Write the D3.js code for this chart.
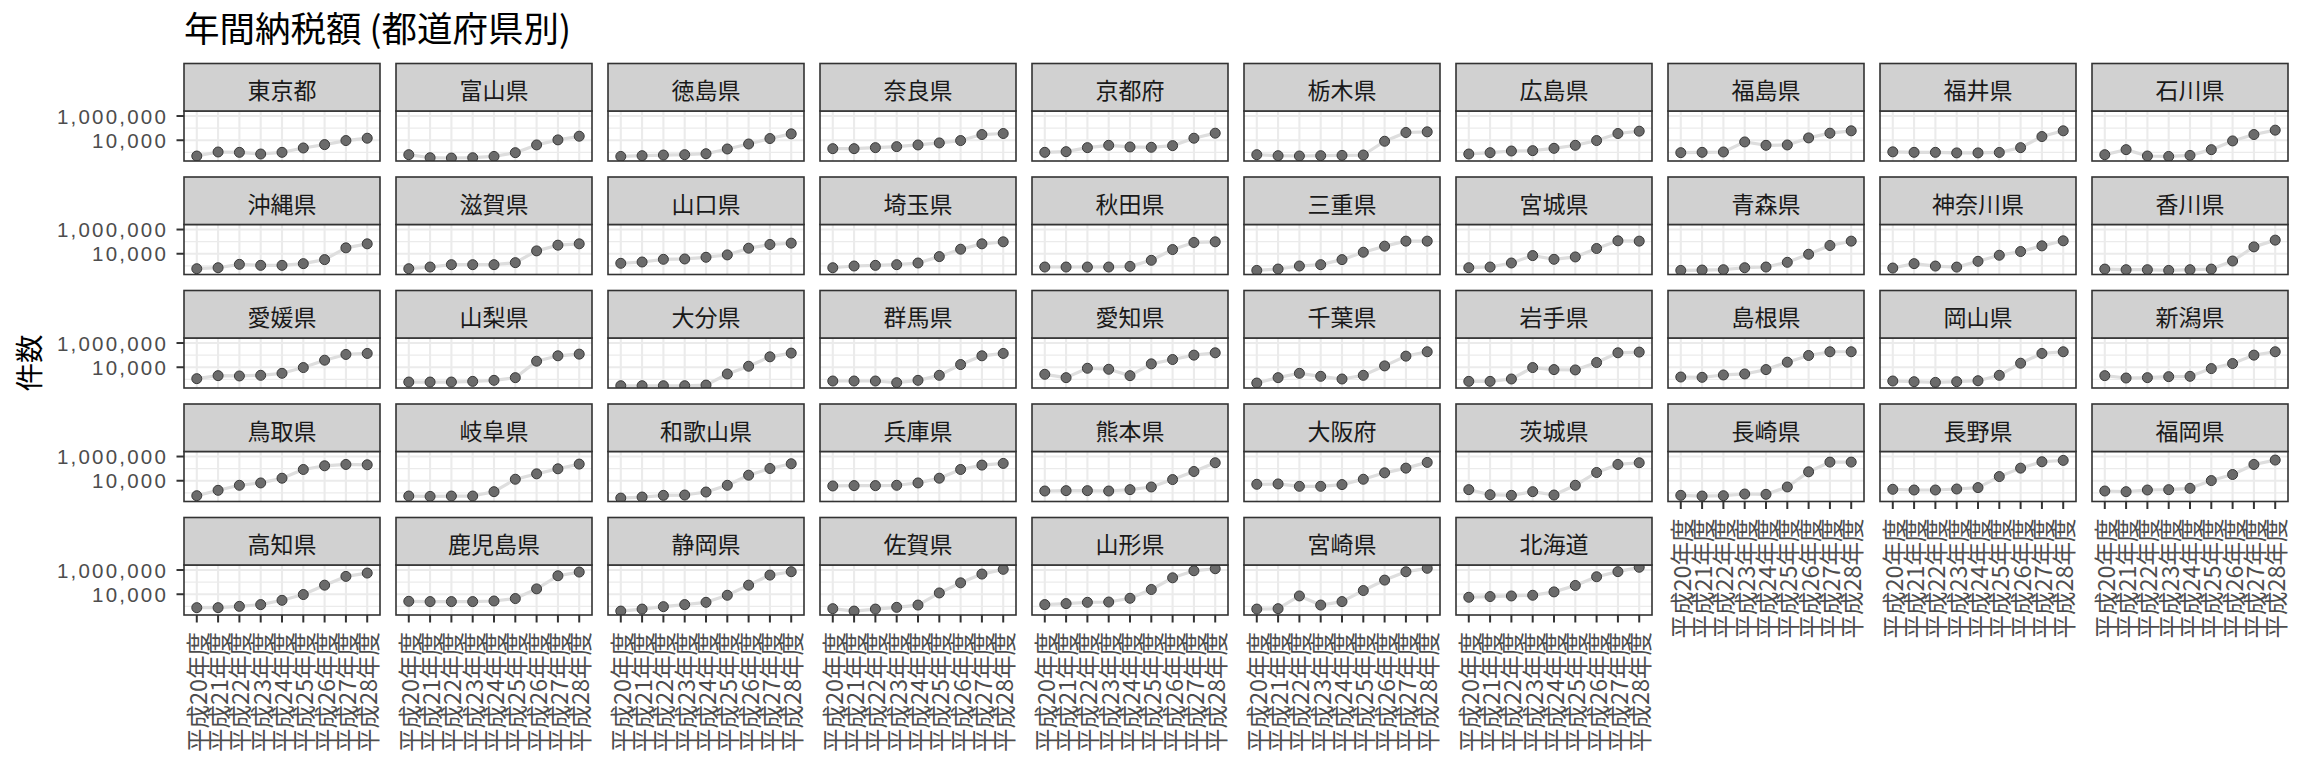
<!DOCTYPE html>
<html>
<head>
<meta charset="utf-8">
<script src="https://cdn.jsdelivr.net/npm/d3@7"></script>
<style>
  html, body { margin: 0; padding: 0; background: #fff; }
  svg { display: block; }
  text { font-family: "Noto Sans CJK JP", "Noto Sans", sans-serif; }
  text.ylab { font-family: "Liberation Sans", "Noto Sans", sans-serif; }
</style>
</head>
<body>
<svg id="chart" width="2304" height="768"></svg>
<script>
// ---------------- DATA ----------------
const chartTitle = "年間納税額 (都道府県別)";
const yAxisTitle = "件数";
const years = ["平成20年度","平成21年度","平成22年度","平成23年度","平成24年度","平成25年度","平成26年度","平成27年度","平成28年度"];
const yTickValues = [10000, 1000000];
const yMinorValues = [1000, 100000];

const prefectures = [
  "東京都","富山県","徳島県","奈良県","京都府","栃木県","広島県","福島県","福井県","石川県",
  "沖縄県","滋賀県","山口県","埼玉県","秋田県","三重県","宮城県","青森県","神奈川県","香川県",
  "愛媛県","山梨県","大分県","群馬県","愛知県","千葉県","岩手県","島根県","岡山県","新潟県",
  "鳥取県","岐阜県","和歌山県","兵庫県","熊本県","大阪府","茨城県","長崎県","長野県","福岡県",
  "高知県","鹿児島県","静岡県","佐賀県","山形県","宮崎県","北海道"
];

// counts per fiscal year (平成20〜28年度)
const 東京都 = [495, 1070, 1000, 730, 1000, 2300, 4350, 9400, 14700];
const 富山県 = [640, 360, 340, 360, 460, 940, 4100, 10700, 21500];
const 徳島県 = [460, 530, 600, 640, 770, 1900, 4900, 13800, 33700];
const 奈良県 = [2020, 2020, 2450, 2960, 4080, 6000, 9400, 29600, 35900];
const 京都府 = [1000, 1140, 2450, 3830, 2780, 2610, 3590, 14700, 38300];
const 栃木県 = [640, 530, 500, 530, 560, 600, 8250, 43500, 49400];
const 広島県 = [730, 940, 1290, 1380, 2150, 3830, 9400, 36000, 56000];
const 福島県 = [940, 1000, 1070, 7260, 3830, 4080, 15600, 38300, 60000];
const 福井県 = [1100, 1000, 1000, 900, 900, 980, 2450, 20200, 60000];
const 石川県 = [640, 1670, 500, 460, 560, 1670, 8800, 29600, 68000];
const 沖縄県 = [580, 700, 1330, 1100, 1100, 1520, 3270, 30600, 65900];
const 滋賀県 = [580, 800, 1250, 1250, 1250, 1840, 17200, 51000, 65900];
const 山口県 = [1620, 2080, 3480, 3710, 5100, 8000, 28700, 58100, 75000];
const 埼玉県 = [700, 970, 1100, 1250, 1720, 5800, 23700, 65900, 96800];
const 秋田県 = [800, 800, 800, 800, 910, 2870, 22200, 85300, 96800];
const 三重県 = [420, 545, 970, 1250, 3270, 13300, 42200, 110000, 110000];
const 宮城県 = [700, 800, 1720, 7030, 3480, 5450, 27000, 117000, 110000];
const 青森県 = [420, 450, 480, 700, 800, 1960, 9080, 48000, 110000];
const 神奈川県 = [660, 1520, 960, 790, 2370, 7500, 15200, 44700, 117000];
const 香川県 = [540, 480, 480, 420, 480, 540, 2510, 36900, 133000];
const 愛媛県 = [1140, 2020, 1900, 2150, 3160, 9400, 38300, 114000, 138000];
const 山梨県 = [600, 600, 600, 680, 830, 1380, 31600, 88000, 121000];
const 大分県 = [297, 297, 297, 297, 337, 2780, 12100, 72600, 147000];
const 群馬県 = [730, 730, 730, 530, 830, 2150, 16700, 88000, 138000];
const 愛知県 = [2610, 1380, 8250, 6810, 2020, 19000, 43500, 100000, 156000];
const 千葉県 = [495, 1380, 3160, 1780, 1070, 2150, 12900, 82500, 190000];
const 岩手県 = [680, 680, 1070, 9400, 6390, 6000, 24500, 156000, 178000];
const 島根県 = [1560, 1470, 2300, 2780, 6390, 26100, 93800, 190000, 190000];
const 岡山県 = [730, 640, 560, 640, 770, 2150, 21500, 138000, 190000];
const 新潟県 = [2020, 1290, 1380, 1670, 1780, 7750, 20200, 100000, 190000];
const 鳥取県 = [580, 1620, 4220, 6590, 16200, 85300, 172000, 222000, 208000];
const 岐阜県 = [545, 510, 545, 545, 1250, 13300, 37100, 96800, 237000];
const 和歌山県 = [370, 450, 620, 660, 1170, 4220, 28700, 103000, 253000];
const 兵庫県 = [3710, 3950, 3950, 4220, 6590, 16200, 85300, 196000, 270000];
const 熊本県 = [1420, 1520, 1520, 1420, 1840, 3060, 12500, 58100, 306000];
const 大阪府 = [5100, 5450, 3480, 3480, 4800, 13300, 45000, 110000, 327000];
const 茨城県 = [1840, 700, 620, 1250, 660, 4220, 48000, 222000, 306000];
const 長崎県 = [620, 545, 580, 800, 750, 3060, 54500, 348000, 348000];
const 長野県 = [1960, 1720, 1720, 2080, 2700, 22200, 110000, 371000, 480000];
const 福岡県 = [1420, 1250, 1720, 1840, 2370, 10300, 32700, 222000, 510000];
const 高知県 = [780, 780, 1000, 1390, 3160, 9440, 56200, 298000, 562000];
const 鹿児島県 = [2610, 2470, 2470, 2470, 2770, 4390, 27700, 335000, 681000];
const 静岡県 = [406, 596, 944, 1390, 2150, 8250, 56200, 383000, 726000];
const 佐賀県 = [643, 406, 596, 826, 1280, 12800, 87500, 464000, 1142000];
const 山形県 = [1390, 1680, 2150, 2280, 4640, 24700, 228000, 874000, 1282000];
const 宮崎県 = [596, 643, 7210, 1280, 2470, 20300, 147000, 721000, 1387000];
const 北海道 = [5620, 6430, 7210, 8250, 15600, 53100, 277000, 736000, 1690000];

const seriesByPrefecture = [
  東京都, 富山県, 徳島県, 奈良県, 京都府, 栃木県, 広島県, 福島県, 福井県, 石川県,
  沖縄県, 滋賀県, 山口県, 埼玉県, 秋田県, 三重県, 宮城県, 青森県, 神奈川県, 香川県,
  愛媛県, 山梨県, 大分県, 群馬県, 愛知県, 千葉県, 岩手県, 島根県, 岡山県, 新潟県,
  鳥取県, 岐阜県, 和歌山県, 兵庫県, 熊本県, 大阪府, 茨城県, 長崎県, 長野県, 福岡県,
  高知県, 鹿児島県, 静岡県, 佐賀県, 山形県, 宮崎県, 北海道
];

// ---------------- LAYOUT ----------------
const ncol = 10;
const panelX0 = 184, panelW = 196, colPitch = 212;
const stripTop0 = 63.5, stripH = 47.5, panelH = 50, rowPitch = 113.5;

const svg = d3.select("#chart");
svg.append("rect").attr("width", 2304).attr("height", 768).attr("fill", "#fff");

// shared scales (ggplot-like 5% expansion on the log scale)
const allVals = seriesByPrefecture.flat();
const lmin = Math.log10(d3.min(allVals)), lmax = Math.log10(d3.max(allVals));
const pad = (lmax - lmin) * 0.05;
const y = d3.scaleLog().domain([Math.pow(10, lmin - pad), Math.pow(10, lmax + pad)]).range([panelH, 0]);
const x = d3.scalePoint().domain(years).range([0, panelW]).padding(0.6);
const fmt = d3.format(",");

// title
svg.append("text").attr("x", 184).attr("y", 42)
  .attr("font-size", 35.5).attr("fill", "#000").text(chartTitle);

// y-axis title
const firstPanelTop = stripTop0 + stripH;
const lastPanelBottom = stripTop0 + 4 * rowPitch + stripH + panelH;
svg.append("text")
  .attr("transform", `translate(27,${(firstPanelTop + lastPanelBottom) / 2}) rotate(-90)`)
  .attr("text-anchor", "middle").attr("dominant-baseline", "central")
  .attr("font-size", 28.5).attr("fill", "#000").text(yAxisTitle);

prefectures.forEach((name, i) => {
  const r = Math.floor(i / ncol), c = i % ncol;
  const gx = panelX0 + c * colPitch;
  const sTop = stripTop0 + r * rowPitch;
  const pTop = sTop + stripH;
  const g = svg.append("g").attr("transform", `translate(${gx},${pTop})`);
  const vals = seriesByPrefecture[i];

  g.append("rect").attr("width", panelW).attr("height", panelH).attr("fill", "#fff");

  const clipId = "clip" + i;
  g.append("clipPath").attr("id", clipId)
    .append("rect").attr("width", panelW).attr("height", panelH);
  const inner = g.append("g").attr("clip-path", `url(#${clipId})`);

  inner.selectAll(".hmin").data(yMinorValues).join("line")
    .attr("x1", 0).attr("x2", panelW)
    .attr("y1", d => y(d)).attr("y2", d => y(d))
    .attr("stroke", "#EBEBEB").attr("stroke-width", 1.1);
  inner.selectAll(".hmaj").data(yTickValues).join("line")
    .attr("x1", 0).attr("x2", panelW)
    .attr("y1", d => y(d)).attr("y2", d => y(d))
    .attr("stroke", "#EBEBEB").attr("stroke-width", 2.1);
  inner.selectAll(".vmaj").data(years).join("line")
    .attr("x1", d => x(d)).attr("x2", d => x(d))
    .attr("y1", 0).attr("y2", panelH)
    .attr("stroke", "#EBEBEB").attr("stroke-width", 2.1);

  const pts = years.map((yr, k) => ({ yr, v: vals[k] }));
  inner.append("path").datum(pts)
    .attr("d", d3.line().x(d => x(d.yr)).y(d => y(d.v)))
    .attr("fill", "none").attr("stroke", "#DEDEDE").attr("stroke-width", 3.2)
    .attr("stroke-linejoin", "round");
  inner.selectAll("circle").data(pts).join("circle")
    .attr("cx", d => x(d.yr)).attr("cy", d => y(d.v)).attr("r", 5)
    .attr("fill", "#6B6B6B").attr("stroke", "#3A3A3A").attr("stroke-width", 1);

  g.append("rect").attr("x", 0).attr("y", 0).attr("width", panelW).attr("height", panelH)
    .attr("fill", "none").attr("stroke", "#333333").attr("stroke-width", 1.6);

  // strip
  svg.append("rect").attr("x", gx).attr("y", sTop).attr("width", panelW).attr("height", stripH)
    .attr("fill", "#D1D1D1").attr("stroke", "#333333").attr("stroke-width", 1.6);
  svg.append("text").attr("x", gx + panelW / 2).attr("y", sTop + stripH / 2 + 2)
    .attr("text-anchor", "middle").attr("dominant-baseline", "central")
    .attr("font-size", 23).attr("fill", "#1A1A1A").text(name);

  // y axis on first column
  if (c === 0) {
    const ya = g.append("g");
    ya.selectAll("line").data(yTickValues).join("line")
      .attr("x1", -7.5).attr("x2", 0).attr("y1", d => y(d)).attr("y2", d => y(d))
      .attr("stroke", "#333333").attr("stroke-width", 2);
    ya.selectAll("text").data(yTickValues).join("text")
      .attr("class", "ylab")
      .attr("x", -16).attr("y", d => y(d))
      .attr("text-anchor", "end").attr("dominant-baseline", "central")
      .attr("font-size", 20.5).attr("letter-spacing", 2.2)
      .attr("fill", "#4D4D4D").text(d => fmt(d));
  }
  // x axis on the bottom-most panel of each column
  if (i + ncol >= prefectures.length) {
    const xa = g.append("g").attr("transform", `translate(0,${panelH})`);
    xa.selectAll("line").data(years).join("line")
      .attr("x1", d => x(d)).attr("x2", d => x(d)).attr("y1", 0).attr("y2", 7.5)
      .attr("stroke", "#333333").attr("stroke-width", 2);
    xa.selectAll("text").data(years).join("text")
      .attr("transform", d => `translate(${x(d)},${17}) rotate(-90)`)
      .attr("text-anchor", "end").attr("dominant-baseline", "central")
      .attr("font-size", 23.5).attr("fill", "#4D4D4D").text(d => d);
  }
});
</script>
</body>
</html>
